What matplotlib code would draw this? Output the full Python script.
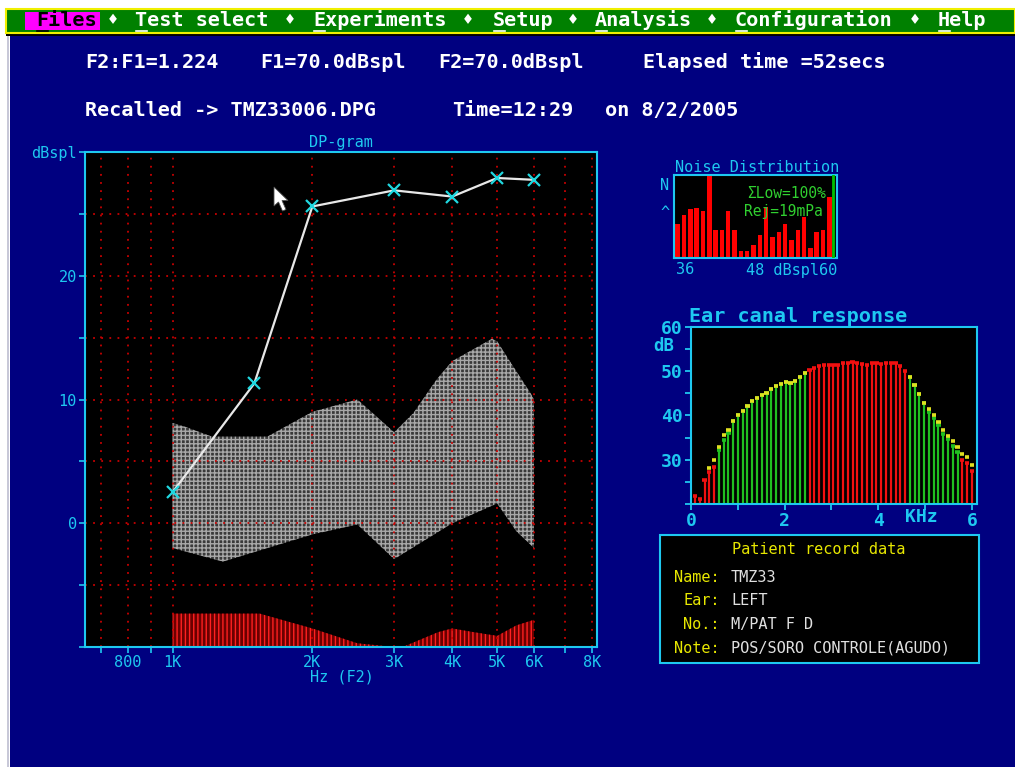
import numpy as np
import matplotlib
matplotlib.use("Agg")
import matplotlib.pyplot as plt
from matplotlib.patches import Rectangle, Polygon
from matplotlib.ticker import FixedLocator, FixedFormatter, NullLocator

plt.rcParams['font.family'] = ['DejaVu Sans Mono', 'DejaVu Sans']
plt.rcParams['hatch.linewidth'] = 1.0

# ---- DP-gram: distortion product level vs F2 ----
dp_hz = [1000, 1500, 2000, 3000, 4000, 5000, 6000]
dp_db = [2.5, 11.3, 25.6, 26.9, 26.4, 27.9, 27.75]

# noise band (upper / lower edge)
band_hi_hz = [1000, 1064, 1216, 1600, 2000, 2500, 3000, 3300, 3700, 4000, 4870, 5000, 5300, 5900, 6000]
band_hi_db = [8.1, 7.8, 7.0, 7.0, 9.0, 10.0, 7.35, 8.9, 11.6, 13.1, 14.9, 14.7, 13.2, 10.5, 10.0]
band_lo_hz = [1000, 1284, 2000, 2500, 3000, 4000, 5000, 5500, 6000]
band_lo_db = [-2.0, -3.1, -0.9, -0.1, -2.9, 0.0, 1.6, -0.65, -2.0]

# noise floor
floor_hz = [1000, 1540, 2000, 2500, 3000, 3130, 3730, 4000, 4450, 5000, 5500, 6000]
floor_db = [-7.3, -7.3, -8.5, -9.7, -10.0, -10.0, -8.8, -8.5, -8.8, -9.1, -8.25, -7.8]

grid_hz = [700, 800, 900, 1000, 2000, 3000, 4000, 5000, 6000, 7000, 8000]
grid_names = ['', '800', '', '1K', '2K', '3K', '4K', '5K', '6K', '', '8K']

# ---- noise distribution histogram (36..60 dBspl) ----
noise_pct = [40.7, 52.4, 58.5, 60.5, 56.5, 98.8, 33.5, 33.5, 56.5, 33.5, 8.5, 8.5, 16.1,
             27.4, 61.7, 25.4, 31.5, 41.5, 22.2, 33.5, 48.8, 12.5, 31.5, 33.5, 73.8]

# ---- ear canal response ----
ear_resp = [21.7, 21.1, 25.4, 27.3, 28.4,
            32.1, 34.5, 36.0,
            38.8, 40.0, 41.1, 42.2, 43.3, 43.9, 44.7, 45.1, 46.0, 46.7, 47.1, 47.5, 47.3, 47.9, 48.8, 49.6,
            50.3, 50.7, 51.1, 51.5, 51.5, 51.5, 51.5, 51.8, 51.8, 52.2, 51.8, 51.6, 51.5, 51.8, 51.8, 51.6,
            51.8, 51.9, 51.9, 51.1, 50.1,
            48.6, 46.8, 44.9, 42.8,
            40.8, 39.4, 37.9, 35.8, 34.6, 33.2, 31.7,
            30.0, 29.2, 27.5]
nan = float('nan')
ear_ref = [nan, nan, nan, 28.1, 30.0,
           32.8, 35.6, 36.8,
           38.8, 40.0, 41.1, 42.2, 43.3, 43.9, 44.7, 45.1, 46.0, 46.7, 47.1, 47.5, 47.3, 47.9, 48.8, 49.6,
           nan, nan, nan, nan, nan, nan, nan, nan, nan, nan, nan, nan, nan, nan, nan, nan,
           nan, nan, nan, nan, nan,
           48.6, 46.8, 44.9, 42.8,
           41.5, 40.1, 38.6, 36.8, 35.4, 34.3, 32.8,
           31.4, 30.7, 28.8]
ear_ok = [False] * 5 + [True] * 19 + [False] * 21 + [True] * 11 + [False] * 3
ear_khz = 0.085 + 0.102 * np.arange(len(ear_resp))

NAVY = '#000080'
CYAN = '#1ec8f0'
YEL = '#f0f000'

W, H = 1015, 767


def fx(x):
    return x / W


def fy(y):
    return 1 - y / H


def axes_px(l, t, r, b):
    return fig.add_axes([fx(l), fy(b), (r - l) / W, (b - t) / H])


def put(x, y, s, **kw):
    kw.setdefault('va', 'center')
    kw.setdefault('ha', 'left')
    return fig.text(fx(x), fy(y), s, **kw)


def box(l, t, r, b, **kw):
    fig.add_artist(Rectangle((fx(l), fy(b)), (r - l) / W, (b - t) / H,
                             transform=fig.transFigure, **kw))


fig = plt.figure(figsize=(10.15, 7.67), dpi=100, facecolor='white')

# screen background, menu bar
box(10, 35, 1015, 767, facecolor=NAVY, edgecolor='none', zorder=-10)
box(7, 35, 9, 767, facecolor='#c8c8d8', edgecolor='none', zorder=-9)
box(6, 33, 1015, 36, facecolor='black', edgecolor='none', zorder=-9)
box(6, 9, 1015, 33, facecolor='#008000', edgecolor=YEL, linewidth=1.5, zorder=-9)
box(25, 12, 100, 30, facecolor='#ff00ff', edgecolor='none', zorder=-8)

menu = [(36, 'Files'), (135, 'Test select'), (313, 'Experiments'), (493, 'Setup'),
        (595, 'Analysis'), (735, 'Configuration'), (938, 'Help')]
for i, (x, word) in enumerate(menu):
    col = 'black' if i == 0 else 'white'
    put(x, 20, word, color=col, fontsize=14.5, fontweight='bold')
    fig.add_artist(plt.Line2D([fx(x + 1), fx(x + 12)], [fy(30.5), fy(30.5)], color=col, lw=1.2,
                              transform=fig.transFigure))
for x in [113, 290, 468, 573, 712, 915]:
    put(x, 20, '\u2666', color='white', fontsize=12, ha='center')

hdr = dict(color='white', fontsize=14.5, fontweight='bold')
put(85, 62, 'F2:F1=1.224', **hdr)
put(260, 62, 'F1=70.0dBspl', **hdr)
put(438, 62, 'F2=70.0dBspl', **hdr)
put(643, 62, 'Elapsed time =52secs', **hdr)
put(85, 110, 'Recalled -> TMZ33006.DPG', **hdr)
put(452, 110, 'Time=12:29', **hdr)
put(605, 110, 'on 8/2/2005', **hdr)

# ---- DP-gram ----
ax = axes_px(85, 152, 597, 647)
ax.set_facecolor('black')
ax.set_xscale('log')
ax.set_xlim(648, 8200)
ax.set_ylim(-10, 30)
for sp in ax.spines.values():
    sp.set_color(CYAN)
    sp.set_linewidth(1.5)
ax.xaxis.set_major_locator(FixedLocator(grid_hz))
ax.xaxis.set_major_formatter(FixedFormatter(grid_names))
ax.xaxis.set_minor_locator(NullLocator())
ax.set_yticks(range(-10, 31, 5))
ax.set_yticklabels(['', '', '0', '', '10', '', '20', '', 'dBspl'])
ax.tick_params(colors=CYAN, length=4, width=1.2, labelsize=11, pad=2)
ax.grid(True, color='#c80000', linestyle=(0, (1, 3.5)), linewidth=1.3)

band_x = band_hi_hz + band_lo_hz[::-1]
band_y = band_hi_db + band_lo_db[::-1]
ax.fill(band_x, band_y, facecolor='#3a3a3a', edgecolor='#a8a8a8', hatch='++++', linewidth=0, zorder=1)
ax.fill_between(floor_hz, -10, floor_db, facecolor='#6a0000', edgecolor='#ff2020',
                hatch='||||', linewidth=0, zorder=1)
ax.plot(dp_hz, dp_db, color='#e8e8e8', lw=1.6, zorder=3)
ax.plot(dp_hz, dp_db, linestyle='none', marker='x', ms=9, mew=1.6, color='#20d8e0', zorder=4)

put(341, 142, 'DP-gram', color=CYAN, fontsize=11, ha='center')
put(342, 677, 'Hz (F2)', color=CYAN, fontsize=11, ha='center')

# mouse pointer
arrow = [(274, 187), (274, 206), (278.5, 202), (282.5, 211), (286, 209.5), (282, 200.5), (288, 200.5)]
fig.add_artist(Polygon([(fx(x), fy(y)) for x, y in arrow], closed=True, transform=fig.transFigure,
                       facecolor='white', edgecolor='#505050', linewidth=0.6, zorder=10))

# ---- noise distribution ----
nx = axes_px(674, 175, 837, 258)
nx.set_facecolor('black')
nx.bar(range(len(noise_pct)), noise_pct, width=0.72, color='#ff0000', zorder=2)
nx.axvline(24.6, color='#00c000', lw=2, zorder=3)
nx.set_xlim(-0.57, 25.2)
nx.set_ylim(0, 100)
nx.set_xticks([])
nx.set_yticks([])
for sp in nx.spines.values():
    sp.set_color(CYAN)
    sp.set_linewidth(1.5)
nx.text(0.45, 0.78, '\u03a3Low=100%', transform=nx.transAxes, color='#30d030', fontsize=10.5,
        va='center', zorder=4)
nx.text(0.43, 0.56, 'Rej=19mPa', transform=nx.transAxes, color='#30d030', fontsize=10.5,
        va='center', zorder=4)
put(675, 167, 'Noise Distribution', color=CYAN, fontsize=11)
put(660, 186, 'N', color=CYAN, fontsize=11)
put(660, 213, '^', color=CYAN, fontsize=11)
put(676, 270, '36', color=CYAN, fontsize=11)
put(746, 270, '48 dBspl60', color=CYAN, fontsize=11)

# ---- ear canal response ----
ex = axes_px(691, 327, 977, 504)
ex.set_facecolor('black')
ex.set_xlim(0, 6.11)
ex.set_ylim(20, 60)
for sp in ex.spines.values():
    sp.set_color(CYAN)
    sp.set_linewidth(1.5)
ex.set_xticks([0, 2, 4, 6])
ex.set_xticks([1, 3, 5], minor=True)
ex.set_yticks([20, 30, 40, 50, 60])
ex.set_yticklabels(['', '30', '40', '50', '60'])
ex.set_yticks([25, 35, 45, 55], minor=True)
ex.tick_params(which='both', colors=CYAN, length=4, width=1.3, labelsize=13, pad=2)
for lab in ex.get_xticklabels() + ex.get_yticklabels():
    lab.set_fontweight('bold')

stem_col = ['#20c020' if ok else '#f01010' for ok in ear_ok]
ex.vlines(ear_khz, 20, ear_resp, colors=stem_col, lw=1.6, zorder=2)
ex.hlines(ear_resp, ear_khz - 0.045, ear_khz + 0.045, colors=stem_col, lw=2.6, zorder=3)
ex.hlines(ear_ref, ear_khz - 0.045, ear_khz + 0.045, colors='#e0e020', lw=2.6, zorder=4)

put(689, 317, 'Ear canal response', color=CYAN, fontsize=14.5, fontweight='bold')
put(653, 346, 'dB', color=CYAN, fontsize=12.5, fontweight='bold')
put(905, 517, 'KHz', color=CYAN, fontsize=13, fontweight='bold')

# ---- patient record ----
box(660, 535, 979, 663, facecolor='black', edgecolor=CYAN, linewidth=1.5, zorder=-5)
put(819, 550, 'Patient record data', color='#e8e800', fontsize=11, ha='center')
rec_keys = ['Name:', 'Ear:', 'No.:', 'Note:']
rec_vals = ['TMZ33', 'LEFT', 'M/PAT F D', 'POS/SORO CONTROLE(AGUDO)']
for i, (k, v) in enumerate(zip(rec_keys, rec_vals)):
    y = 577 + i * 23.7
    put(720, y, k, color='#e8e800', fontsize=11, ha='right')
    put(731, y, v, color='#e0e0e0', fontsize=11)

fig.savefig('out.png', dpi=100, facecolor=fig.get_facecolor())
